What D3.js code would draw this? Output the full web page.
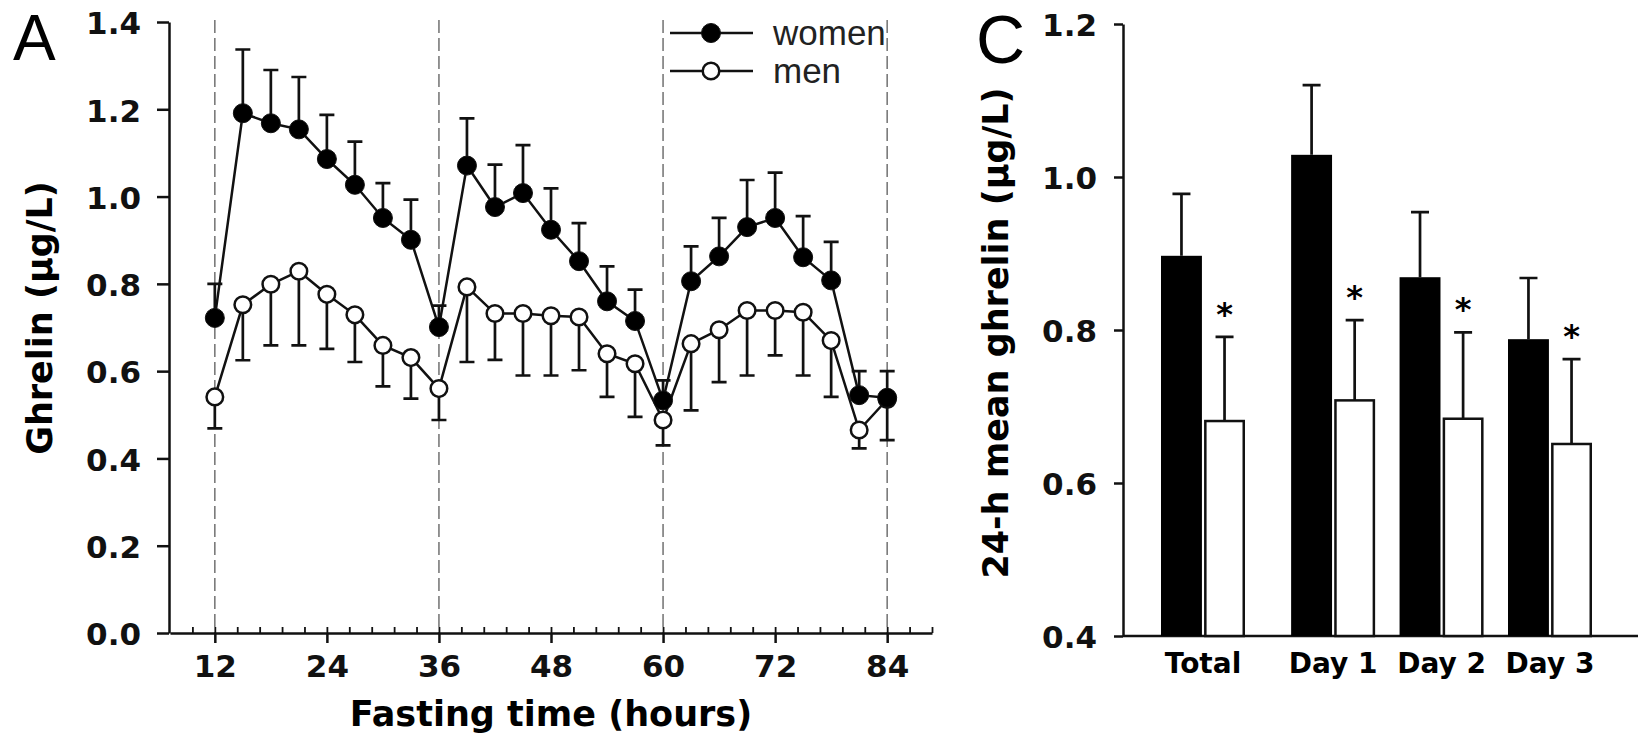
<!DOCTYPE html>
<html>
<head>
<meta charset="utf-8">
<script src="https://cdn.jsdelivr.net/npm/d3@7"></script>
<style>
  html, body { margin: 0; padding: 0; background: #fff; }
  svg { display: block; }
  .tick text { font-family: "DejaVu Sans", Verdana, sans-serif; font-weight: bold; fill: #111; }
</style>
</head>
<body>
<svg id="chart" width="1638" height="735"></svg>
<script>
// panel A: ghrelin over fasting time, mean +/- SEM
const hours = [12, 15, 18, 21, 24, 27, 30, 33, 36, 39, 42, 45, 48, 51, 54, 57, 60, 63, 66, 69, 72, 75, 78, 81, 84];
const women = [0.722, 1.191, 1.168, 1.154, 1.086, 1.027, 0.951, 0.901, 0.701, 1.071, 0.976, 1.008, 0.924, 0.852, 0.760, 0.715, 0.533, 0.806, 0.863, 0.930, 0.951, 0.861, 0.808, 0.545, 0.539];
const womenErrTop = [0.800, 1.337, 1.290, 1.274, 1.187, 1.126, 1.031, 0.993, 0.750, 1.179, 1.073, 1.118, 1.019, 0.939, 0.840, 0.787, 0.579, 0.886, 0.951, 1.038, 1.055, 0.955, 0.896, 0.600, 0.600];
const men = [0.541, 0.752, 0.799, 0.829, 0.776, 0.729, 0.659, 0.631, 0.560, 0.793, 0.732, 0.732, 0.727, 0.724, 0.640, 0.617, 0.488, 0.663, 0.695, 0.739, 0.739, 0.735, 0.670, 0.465, 0.535];
const menErrBottom = [0.469, 0.625, 0.659, 0.659, 0.651, 0.621, 0.565, 0.537, 0.488, 0.621, 0.626, 0.590, 0.590, 0.602, 0.541, 0.495, 0.430, 0.510, 0.575, 0.590, 0.636, 0.590, 0.541, 0.423, 0.442];
const dayMarks = [12, 36, 60, 84];
const xTicksA = [12, 24, 36, 48, 60, 72, 84];
const yTicksA = [0, 0.2, 0.4, 0.6, 0.8, 1.0, 1.2, 1.4];

// panel C: 24-h mean ghrelin
const groups = ["Total", "Day 1", "Day 2", "Day 3"];
const womenMean = [0.897, 1.029, 0.869, 0.788];
const womenMeanErr = [0.978, 1.120, 0.954, 0.868];
const menMean = [0.681, 0.708, 0.684, 0.651];
const menMeanErr = [0.791, 0.813, 0.797, 0.762];
const yTicksC = [0.4, 0.6, 0.8, 1.0, 1.2];

const svg = d3.select("#chart");
const lw = 2.5;

// ---------- panel A ----------
const xA = d3.scaleLinear().domain([7.2, 88.8]).range([170, 932]);
const yA = d3.scaleLinear().domain([0, 1.4]).range([633, 22]);

const gA = svg.append("g");

gA.selectAll(".daymark")
    .data(dayMarks)
    .enter()
    .append("line")
    .attr("x1", d => xA(d))
    .attr("x2", d => xA(d))
    .attr("y1", yA(1.4) - 2)
    .attr("y2", yA(0))
    .attr("stroke", "#7a7a7a")
    .attr("stroke-width", 1.6)
    .attr("stroke-dasharray", "13,5");

// minor x ticks (5 per 12 h), pointing up
gA.append("g")
    .attr("transform", `translate(0,${yA(0)})`)
    .call(d3.axisBottom(xA).tickValues(d3.range(9.6, 89, 2.4)).tickSize(-6).tickSizeOuter(0).tickFormat(""))
    .call(g => g.select(".domain").remove())
    .call(g => g.selectAll("line").attr("stroke", "#111").attr("stroke-width", 1.8));

const xAxisA = gA.append("g")
    .attr("transform", `translate(0,${yA(0)})`)
    .call(d3.axisBottom(xA).tickValues(xTicksA).tickSize(10).tickSizeOuter(0).tickPadding(12));
xAxisA.selectAll("text").style("font-size", "31px");

const yAxisA = gA.append("g")
    .attr("transform", `translate(${xA(7.2) - 1},0)`)
    .call(d3.axisLeft(yA).tickValues(yTicksA).tickSize(12).tickSizeOuter(0).tickPadding(16).tickFormat(d3.format(".1f")));
yAxisA.selectAll("text").style("font-size", "31px").attr("dy", "0.38em");

[xAxisA, yAxisA].forEach(a => {
    a.select(".domain").attr("stroke", "#111").attr("stroke-width", lw);
    a.selectAll(".tick line").attr("stroke", "#111").attr("stroke-width", lw);
});

const lineA = d3.line()
    .x((d, i) => xA(hours[i]))
    .y(d => yA(d));

function capPath(x, y, half) {
    return `M${x - half},${y}H${x + half}`;
}

// men first, women on top
const series = [
    { name: "men", vals: men, err: menErrBottom, fill: "#fff" },
    { name: "women", vals: women, err: womenErrTop, fill: "#000" }
];

series.forEach(s => {
    const g = gA.append("g").attr("class", s.name);

    g.append("path")
        .datum(s.vals)
        .attr("d", lineA)
        .attr("fill", "none")
        .attr("stroke", "#111")
        .attr("stroke-width", 2.5);

    g.selectAll(".err")
        .data(s.vals)
        .enter()
        .append("path")
        .attr("d", (d, i) => {
            const x = xA(hours[i]);
            return `M${x},${yA(d)}V${yA(s.err[i])}` + capPath(x, yA(s.err[i]), 7.5);
        })
        .attr("fill", "none")
        .attr("stroke", "#111")
        .attr("stroke-width", 2.7);

    g.selectAll("circle")
        .data(s.vals)
        .enter()
        .append("circle")
        .attr("cx", (d, i) => xA(hours[i]))
        .attr("cy", d => yA(d))
        .attr("r", s.fill === "#000" ? 9.5 : 8.3)
        .attr("fill", s.fill)
        .attr("stroke", "#111")
        .attr("stroke-width", s.fill === "#000" ? 1 : lw);
});

// legend
const legend = gA.append("g");
[{ label: "women", fill: "#000", y: 33 }, { label: "men", fill: "#fff", y: 71 }].forEach(d => {
    legend.append("line")
        .attr("x1", 670).attr("x2", 753)
        .attr("y1", d.y).attr("y2", d.y)
        .attr("stroke", "#111").attr("stroke-width", 2.5);
    legend.append("circle")
        .attr("cx", 711).attr("cy", d.y)
        .attr("r", d.fill === "#000" ? 9.5 : 8.3)
        .attr("fill", d.fill)
        .attr("stroke", "#111")
        .attr("stroke-width", d.fill === "#000" ? 1 : lw);
    legend.append("text")
        .attr("x", 773).attr("y", d.y + 12)
        .style("font-family", "'Liberation Sans', Arial, sans-serif")
        .style("font-size", "35px")
        .attr("fill", "#222")
        .text(d.label);
});

gA.append("text")
    .attr("x", 551).attr("y", 726)
    .attr("text-anchor", "middle")
    .style("font-family", "'DejaVu Sans', Verdana, sans-serif")
    .style("font-weight", "bold")
    .style("font-size", "35px")
    .text("Fasting time (hours)");

gA.append("text")
    .attr("transform", "translate(52,318) rotate(-90)")
    .attr("text-anchor", "middle")
    .style("font-family", "'DejaVu Sans', Verdana, sans-serif")
    .style("font-weight", "bold")
    .style("font-size", "35px")
    .text("Ghrelin (µg/L)");

gA.append("text")
    .attr("x", 13).attr("y", 60)
    .style("font-family", "'Liberation Sans', Arial, sans-serif")
    .style("font-size", "64px")
    .text("A");

// ---------- panel C ----------
const yC = d3.scaleLinear().domain([0.4, 1.2]).range([636, 24]);
// "Total" sits a little apart from the day groups
const slot = i => i + (i > 0 ? 0.2 : 0);
const xC = d3.scaleLinear().domain([0, slot(groups.length - 1)]).range([1203, 1550]);
const xSex = d3.scaleBand().domain(["women", "men"]).range([-42, 42]).paddingInner(0.05);

const gC = svg.append("g");

gC.append("line")
    .attr("x1", 1123).attr("x2", 1638)
    .attr("y1", yC(0.4)).attr("y2", yC(0.4))
    .attr("stroke", "#111").attr("stroke-width", lw);

const yAxisC = gC.append("g")
    .attr("transform", "translate(1123,0)")
    .call(d3.axisLeft(yC).tickValues(yTicksC).tickSize(9).tickSizeOuter(0).tickPadding(17).tickFormat(d3.format(".1f")));
yAxisC.selectAll("text").style("font-size", "31px").attr("dy", "0.38em");
yAxisC.select(".domain").attr("stroke", "#111").attr("stroke-width", lw);
yAxisC.selectAll(".tick line").attr("stroke", "#111").attr("stroke-width", lw);

const barData = groups.map((g, i) => ([
    { sex: "women", group: g, i, v: womenMean[i], e: womenMeanErr[i] },
    { sex: "men", group: g, i, v: menMean[i], e: menMeanErr[i] }
])).flat();

const bx = d => xC(slot(d.i)) + xSex(d.sex) + xSex.bandwidth() / 2;

gC.selectAll(".err")
    .data(barData)
    .enter()
    .append("path")
    .attr("d", d => `M${bx(d)},${yC(d.v)}V${yC(d.e)}` + capPath(bx(d), yC(d.e), 9))
    .attr("fill", "none")
    .attr("stroke", "#111")
    .attr("stroke-width", 2.7);

gC.selectAll(".bar")
    .data(barData)
    .enter()
    .append("rect")
    .attr("x", d => xC(slot(d.i)) + xSex(d.sex) + (d.sex === "men" ? lw / 2 : 0))
    .attr("width", d => xSex.bandwidth() - (d.sex === "men" ? lw : 0))
    .attr("y", d => yC(d.v))
    .attr("height", d => yC(0.4) - yC(d.v))
    .attr("fill", d => d.sex === "women" ? "#000" : "#fff")
    .attr("stroke", d => d.sex === "women" ? "none" : "#111")
    .attr("stroke-width", lw);

gC.selectAll(".star")
    .data(barData.filter(d => d.sex === "men"))
    .enter()
    .append("text")
    .attr("x", d => bx(d))
    .attr("y", d => yC(d.e) - 12)
    .attr("text-anchor", "middle")
    .style("font-family", "'DejaVu Sans', Verdana, sans-serif")
    .style("font-weight", "bold")
    .style("font-size", "32px")
    .text("*");

gC.selectAll(".grouplabel")
    .data(groups)
    .enter()
    .append("text")
    .attr("x", (d, i) => xC(slot(i)))
    .attr("y", 673)
    .attr("text-anchor", "middle")
    .style("font-family", "'DejaVu Sans', Verdana, sans-serif")
    .style("font-weight", "bold")
    .style("font-size", "28px")
    .text(d => d);

gC.append("text")
    .attr("transform", "translate(1008,333) rotate(-90)")
    .attr("text-anchor", "middle")
    .style("font-family", "'DejaVu Sans', Verdana, sans-serif")
    .style("font-weight", "bold")
    .style("font-size", "35px")
    .text("24-h mean ghrelin (µg/L)");

gC.append("text")
    .attr("x", 976).attr("y", 63)
    .style("font-family", "'Liberation Sans', Arial, sans-serif")
    .style("font-size", "68px")
    .text("C");
</script>
</body>
</html>
